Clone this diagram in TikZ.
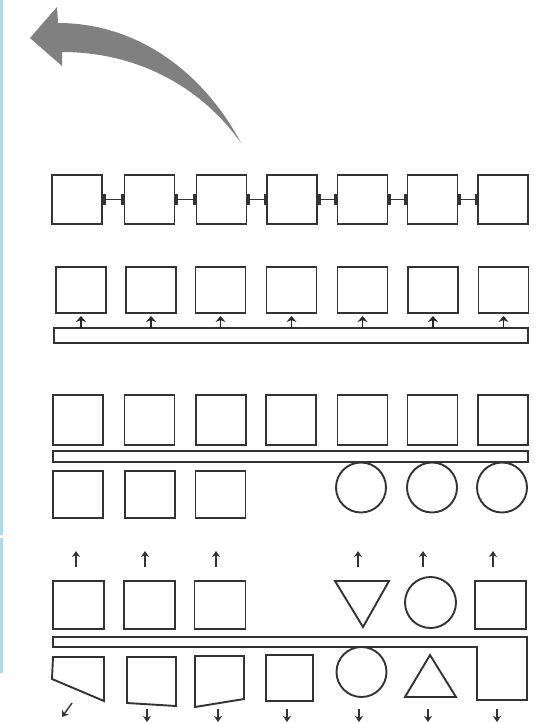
\documentclass[tikz,border=0pt]{standalone}
\usetikzlibrary{arrows.meta,calc}
\definecolor{edgeblue}{HTML}{A8DBEA}
\definecolor{arrowgray}{HTML}{808080}
\begin{document}
\begin{tikzpicture}[x=1pt,y=-1pt,
  ln/.style={draw=black!80,line width=1.9pt},
  box/.style={ln,rectangle,minimum width=50pt,minimum height=49pt,inner sep=0pt,outer sep=0pt},
  ring/.style={ln,circle,minimum size=50pt,inner sep=0pt,outer sep=0pt},
  bar/.style={ln,rectangle,inner sep=0pt,outer sep=0pt},
  link/.style={draw=black!80,line width=1.5pt,{Rectangle[length=3.5pt,width=11pt]}-{Rectangle[length=3.5pt,width=11pt]}},
  tap/.style={draw=black!85,line width=1.6pt,-{Stealth[length=6pt,width=10pt]}},
  arr/.style={draw=black!80,line width=1.4pt,-{Stealth[length=6pt,width=8pt]}}
]
\useasboundingbox (0,0) rectangle (555,723);
% left blue edge
\draw[edgeblue,line width=3pt] (1.5,0) -- (1.5,535) (1.5,538) -- (1.5,673);
% big curved arrow
\fill[arrowgray] (58,23) .. controls (140,23) and (205,75) .. (241,143)
  .. controls (200,85) and (135,52) .. (62,52) -- (62,66) -- (30,38) -- (57,7) -- cycle;
% Row 1: chain
\foreach \i/\x in {1/77,2/149.5,3/221.5,4/292,5/362.5,6/432.5,7/503}
  \node[box] (a\i) at (\x,199.5) {};
\foreach \i [evaluate=\i as \j using int(\i+1)] in {1,...,6}
  \draw[link] (a\i.east) -- (a\j.west);
% Row 2: bus with taps
\foreach \i/\x in {1/81,2/151,3/220.5,4/291.5,5/362.5,6/433,7/503.5}
  \node[box,minimum height=46pt] (b\i) at (\x,290) {};
\node[bar,minimum width=474pt,minimum height=15pt] (bus2) at (291,335.5) {};
\foreach \i in {1,...,7}
  \draw[tap] (b\i.south |- bus2.north) -- ([yshift=-3pt]b\i.south);
% Row 3
\foreach \i/\x in {1/78,2/149.5,3/221,4/291,5/362.5,6/432.5,7/503}
  \node[box,minimum height=50pt] (c\i) at (\x,420) {};
\node[bar,minimum width=475pt,minimum height=11pt] (bus3) at (290.5,456.5) {};
\foreach \i/\x in {1/78,2/150,3/220.5}
  \node[box,minimum height=47pt] (d\i) at (\x,494.5) {};
\foreach \i/\x in {5/361,6/432,7/502}
  \node[ring] (d\i) at (\x,487.5) {};
% Row 4 top
\foreach \i/\x in {1/78.5,2/149.5,3/220}
  \node[box,minimum width=51pt,minimum height=48pt] (e\i) at (\x,605) {};
\draw[ln] (335,581) -- (389,581) -- (363,627) -- cycle;
\coordinate (e5) at (362,581);
\node[ring,minimum size=51pt] (e6) at (430.5,602.5) {};
\node[box,minimum width=51pt,minimum height=48pt] (e7) at (500.5,605) {};
\foreach \n/\dx/\dy in {e1.north/-2.5/14,e2.north/-4.5/14,e3.north/-4/14,e5/-4/14,e6.north/-7.5/10,e7.north/-7.5/14}
  \draw[arr] ([xshift=\dx pt,yshift=\dy pt]\n) -- ++(0,-16);
% Row 4 bus
\draw[ln] (53,637) -- (527,637) -- (527,700) -- (477,700) -- (477,647) -- (53,647) -- cycle;
% Row 4 bottom shapes
\draw[ln] (53,657) -- (104,657) -- (104,701) -- (52,679) -- cycle;
\draw[ln] (127,657) -- (176,657) -- (176,706) -- (127,703) -- cycle;
\draw[ln] (195,656) -- (244,656) -- (244,699) -- (195,707) -- cycle;
\node[box,minimum width=47pt,minimum height=46pt] (f4) at (289.5,678) {};
\node[ring] (f5) at (361.5,672) {};
\draw[ln] (430,655) -- (456,697) -- (405,697) -- cycle;
% outgoing arrows
\coordinate (g1) at (72,703);
\draw[arr] (g1) -- ++(-10,14);
\foreach \i/\x in {2/147,3/218,4/287,5/359,6/428,7/497} {
  \coordinate (g\i) at (\x,709);
  \draw[arr] (g\i) -- ++(0,13);
}
\end{tikzpicture}
\end{document}
